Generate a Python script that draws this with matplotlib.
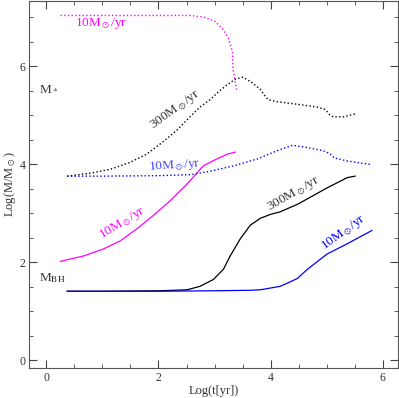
import numpy as np
import matplotlib
matplotlib.use("Agg")
from matplotlib import pyplot as plt

plt.rcParams['font.family'] = ['Liberation Serif', 'DejaVu Serif']
plt.rcParams['mathtext.fontset'] = 'stix'

# stellar mass, 10 Msun/yr (magenta dotted)
ms10_mag_x = [0.25, 1.0, 2.0, 2.57, 2.80, 3.01, 3.16, 3.25, 3.32, 3.33, 3.37, 3.40]
ms10_mag_y = [7.04, 7.04, 7.04, 7.04, 7.01, 6.92, 6.75, 6.57, 6.30, 5.95, 5.67, 5.50]

# stellar mass, 300 Msun/yr (black dotted)
ms300_x = [0.37, 0.78, 1.14, 1.49, 1.79, 2.08, 2.33, 2.57, 2.74, 2.92, 3.10, 3.23,
           3.37, 3.51, 3.67, 3.82, 3.90, 3.96, 4.12, 4.53, 4.83, 4.98, 5.06, 5.12,
           5.30, 5.51]
ms300_y = [3.76, 3.82, 3.90, 4.04, 4.21, 4.46, 4.70, 4.98, 5.17, 5.32, 5.51, 5.63,
           5.74, 5.78, 5.67, 5.53, 5.40, 5.32, 5.28, 5.22, 5.17, 5.12, 5.01, 4.97,
           4.97, 5.03]

# stellar mass, 10 Msun/yr (blue dotted)
ms10_blue_x = [0.37, 1.0, 2.0, 2.57, 2.92, 3.34, 3.76, 4.12, 4.39, 4.58, 4.94, 5.06,
               5.14, 5.37, 5.78]
ms10_blue_y = [3.76, 3.76, 3.77, 3.79, 3.86, 3.97, 4.11, 4.28, 4.39, 4.36, 4.28, 4.22,
               4.13, 4.07, 4.00]

# black hole mass, 10 Msun/yr (magenta solid)
mbh10_mag_x = [0.25, 0.66, 1.01, 1.32, 1.62, 1.91, 2.21, 2.51, 2.66, 2.80, 3.04, 3.23, 3.37]
mbh10_mag_y = [2.02, 2.13, 2.27, 2.44, 2.69, 2.96, 3.26, 3.60, 3.79, 3.97, 4.11, 4.21, 4.25]

# black hole mass, 300 Msun/yr (black solid)
mbh300_x = [0.37, 1.0, 2.03, 2.51, 2.74, 2.98, 3.16, 3.28, 3.46, 3.64, 3.82, 4.00,
            4.17, 4.49, 5.01, 5.37, 5.51]
mbh300_y = [1.41, 1.41, 1.42, 1.44, 1.51, 1.65, 1.86, 2.13, 2.48, 2.76, 2.90, 2.98,
            3.03, 3.19, 3.52, 3.73, 3.76]

# black hole mass, 10 Msun/yr (blue solid)
mbh10_blue_x = [0.37, 1.0, 2.0, 3.0, 3.64, 3.82, 4.17, 4.29, 4.48, 4.65, 5.01, 5.37, 5.81]
mbh10_blue_y = [1.41, 1.41, 1.41, 1.42, 1.43, 1.44, 1.51, 1.57, 1.67, 1.85, 2.17, 2.38, 2.65]

fig = plt.figure(figsize=(3.99, 3.98), dpi=100)
ax = fig.add_axes([0.073, 0.075, 0.925, 0.923])

ax.plot(mbh300_x, mbh300_y, color='black', lw=0.9)
ax.plot(mbh10_blue_x, mbh10_blue_y, color='blue', lw=0.9)
ax.plot(mbh10_mag_x, mbh10_mag_y, color='magenta', lw=0.9)
ax.plot(ms10_mag_x, ms10_mag_y, color='magenta', lw=1.0, ls=':')
ax.plot(ms300_x, ms300_y, color='black', lw=1.0, ls=':')
ax.plot(ms10_blue_x, ms10_blue_y, color='blue', lw=1.0, ls=':')

lab = r'10M$_\odot$/yr'
lab3 = r'300M$_\odot$/yr'
ax.text(0.51, 6.88, lab, color='magenta', fontsize=9.5, ha='left', va='center')
ax.text(2.30, 5.12, lab3, color='#333333', fontsize=9.5, ha='center', va='center',
        rotation=36)
ax.text(2.28, 3.97, lab, color='#4444ff', fontsize=9.5, ha='center', va='center',
        rotation=4)
ax.text(1.36, 2.80, lab, color='magenta', fontsize=9.5, ha='center', va='center',
        rotation=31)
ax.text(4.42, 3.40, lab3, color='#333333', fontsize=9.5, ha='center', va='center',
        rotation=30)
ax.text(5.30, 2.60, lab, color='blue', fontsize=9.5, ha='center', va='center',
        rotation=36)
ax.text(-0.14, 5.53, r'M$_*$', color='#333333', fontsize=9.5, ha='left', va='center')
ax.text(-0.14, 1.67, r'M$_{\rm BH}$', color='#333333', fontsize=9.5, ha='left', va='center')

ax.set_xlim(-0.31, 6.28)
ax.set_ylim(-0.16, 7.34)
ax.set_xticks([0, 2, 4, 6])
ax.set_yticks([0, 2, 4, 6])
ax.set_xticks(np.arange(0, 6.3, 0.5), minor=True)
ax.set_yticks(np.arange(0, 7.3, 0.5), minor=True)
ax.tick_params(which='both', direction='in', top=True, right=True, colors='#444444',
               labelsize=8.5, labelcolor='#333333', pad=2.5)
ax.tick_params(which='major', length=6)
ax.tick_params(which='minor', length=3)
for s in ax.spines.values():
    s.set_color('#555555')
ax.set_xlabel('Log(t[yr])', fontsize=9, color='#333333', labelpad=1)
ax.set_ylabel(r'Log(M/M$_\odot$)', fontsize=9, color='#333333', labelpad=1)

fig.savefig('out.png', dpi=100)
